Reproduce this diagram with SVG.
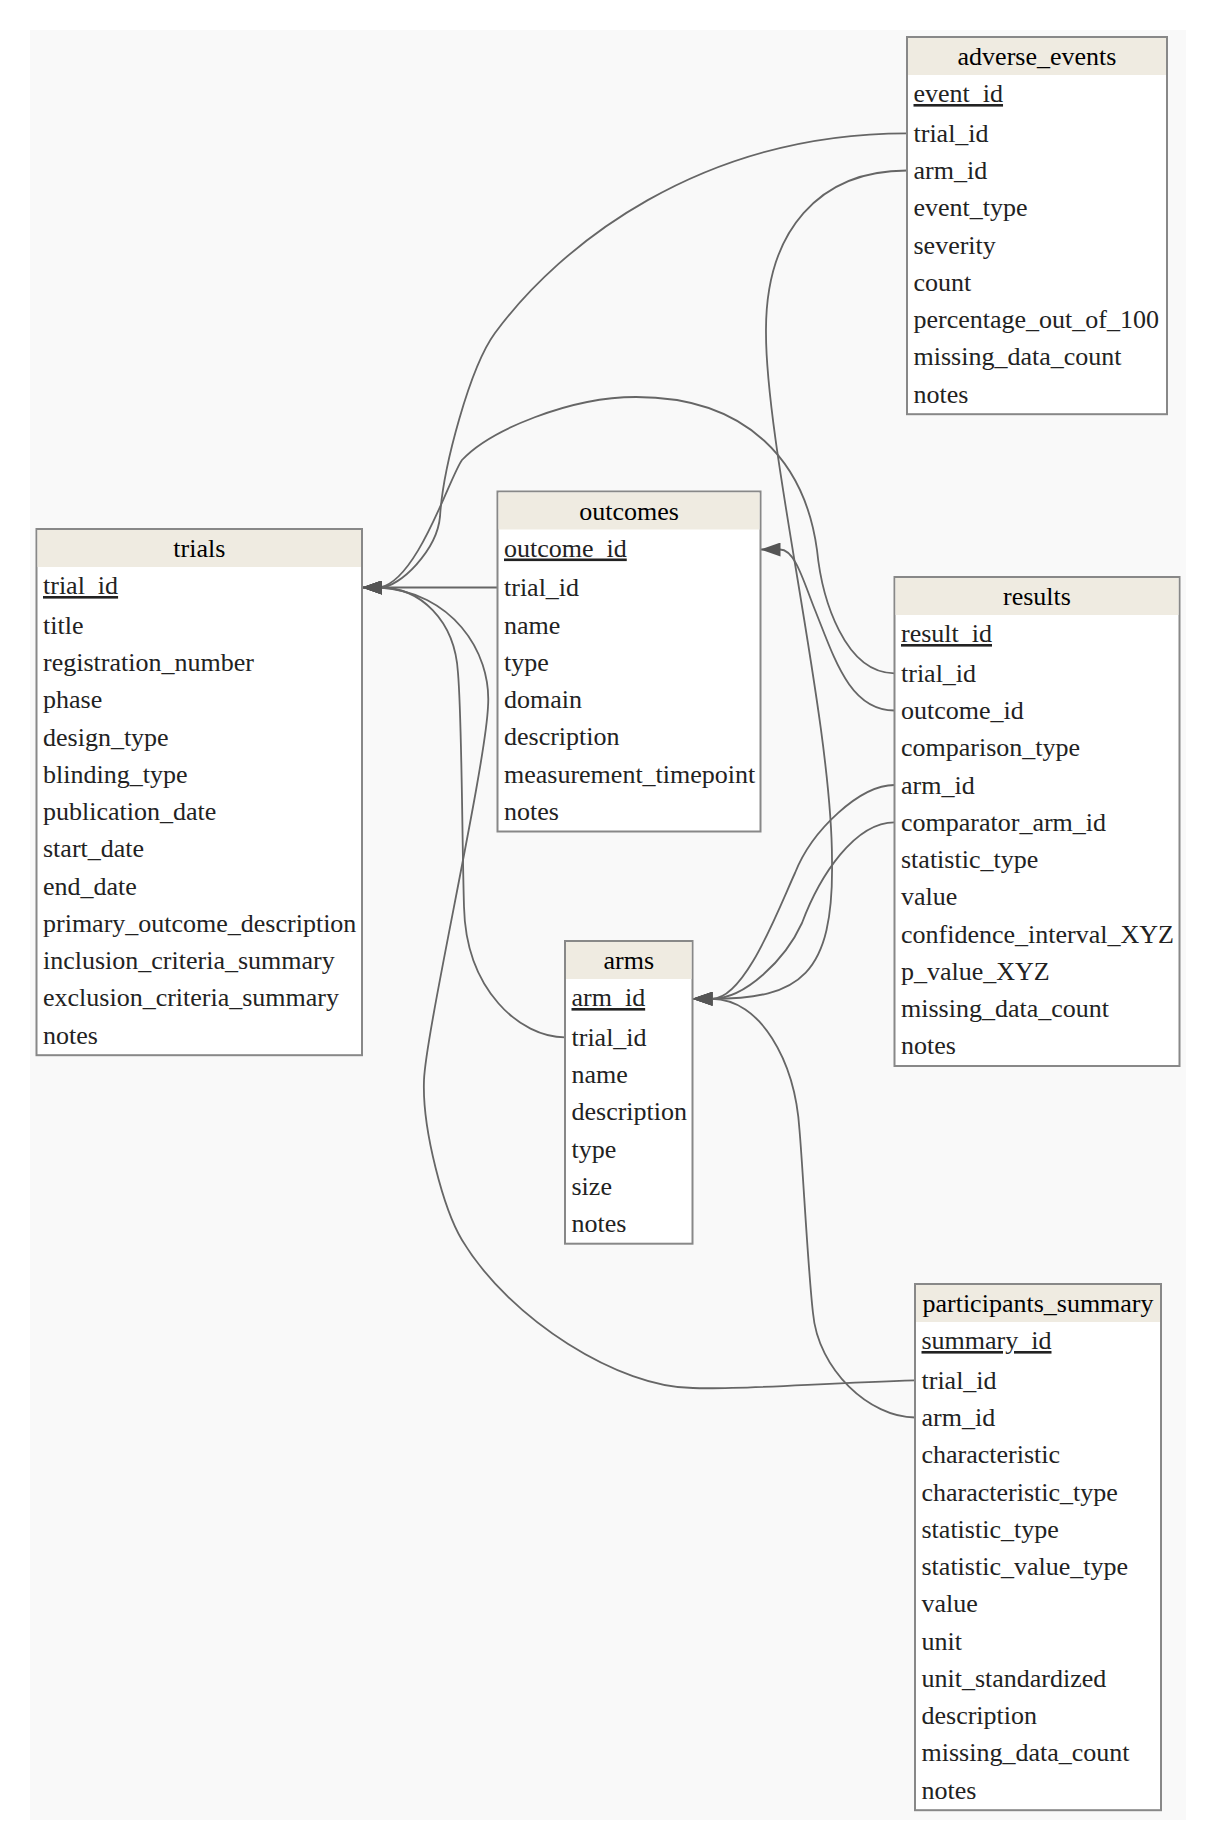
<svg xmlns="http://www.w3.org/2000/svg" width="1216" height="1848" viewBox="0 0 1216 1848">
<style>
.bg{fill:#f9f9f9}
.box{fill:#ffffff;stroke:#888888;stroke-width:2}
.hdr{fill:#efebe1}
text{font-family:"Liberation Serif","Times New Roman",serif;font-size:26px}
.ht{text-anchor:middle;fill:#000000}
.rt{fill:#222222}
.pk{text-decoration:underline}
.edge{fill:none;stroke:#666666;stroke-width:1.8;marker-end:url(#arr)}
</style>
<defs>
<marker id="arr" markerUnits="userSpaceOnUse" viewBox="0 0 20 14" refX="20" refY="7" markerWidth="20" markerHeight="14" orient="auto">
<path d="M0,0 L20,7 L0,14 Z" fill="#555555"/>
</marker>
</defs>
<rect x="0" y="0" width="1216" height="1848" fill="#ffffff"/>
<rect class="bg" x="30" y="30" width="1156" height="1790"/>

<g id="connectors">
<path id="e_ae_trial" class="edge" d="M907,133.3 C700,133.3 560,245 495,333 C470,367 443,467 440,516.7 C437,550 400,587.5 380,587.5 L362,587.5"/>
<path id="e_ae_arm" class="edge" d="M907,170.5 C820,170.5 765,230 766,333 C766,450 832,720 832,860 C834,975 800,998.8 712,998.8 L692.5,998.8"/>
<path id="e_res_trial" class="edge" d="M894.5,673.3 C845,673.3 822,600 817,550 C805,462 748,397 636,397 C570,397 490,430 462,460 C450,476 418,580 380,587.5 L362,587.5"/>
<path id="e_res_outcome" class="edge" d="M894.5,710.5 C850,710.5 835,660 815,610 C803,580 795,549.5 780,549.5 L760.5,549.5"/>
<path id="e_res_arm" class="edge" d="M894.5,785 C860,785 812,830 795,873 C778,910 745,998.8 712,998.8 L692.5,998.8"/>
<path id="e_res_comp" class="edge" d="M894.5,822.3 C855,822.3 820,875 802,923 C785,960 745,998.8 712,998.8 L692.5,998.8"/>
<path id="e_out_trial" class="edge" d="M497.5,587.5 L362,587.5"/>
<path id="e_arm_trial" class="edge" d="M565,1037.3 C520,1037.3 466,990 464,906.7 C462,840 462,720 458,673 C455,620 420,587.5 380,587.5 L362,587.5"/>
<path id="e_ps_trial" class="edge" d="M915,1380.3 C820,1383 740,1390 693,1388 C620,1388 510,1320 462,1240 C444,1210 422,1130 424,1080 C426,1030 485,770 488,706.7 C492,650 450,592 380,587.5 L362,587.5"/>
<path id="e_ps_arm" class="edge" d="M915,1417.5 C870,1417.5 818,1370 813,1313 C808,1270 803,1170 799.5,1130 C795,1060 760,998.8 712,998.8 L692.5,998.8"/>
</g>

<g id="adverse_events">
<rect class="box" x="907" y="37" width="260" height="377.2"/>
<rect class="hdr" x="908" y="38" width="258" height="37"/>
<text class="ht" x="1037" y="65">adverse_events</text>
<text class="rt pk" x="913.5" y="102">event_id</text>
<text class="rt" x="913.5" y="141.8">trial_id</text>
<text class="rt" x="913.5" y="179.1">arm_id</text>
<text class="rt" x="913.5" y="216.3">event_type</text>
<text class="rt" x="913.5" y="253.6">severity</text>
<text class="rt" x="913.5" y="290.8">count</text>
<text class="rt" x="913.5" y="328.1">percentage_out_of_100</text>
<text class="rt" x="913.5" y="365.3">missing_data_count</text>
<text class="rt" x="913.5" y="402.6">notes</text>
</g>

<g id="trials">
<rect class="box" x="36.5" y="529" width="325.5" height="526.2"/>
<rect class="hdr" x="37.5" y="530" width="323.5" height="37"/>
<text class="ht" x="199.3" y="557">trials</text>
<text class="rt pk" x="43" y="594">trial_id</text>
<text class="rt" x="43" y="633.8">title</text>
<text class="rt" x="43" y="671.1">registration_number</text>
<text class="rt" x="43" y="708.3">phase</text>
<text class="rt" x="43" y="745.6">design_type</text>
<text class="rt" x="43" y="782.8">blinding_type</text>
<text class="rt" x="43" y="820.1">publication_date</text>
<text class="rt" x="43" y="857.3">start_date</text>
<text class="rt" x="43" y="894.6">end_date</text>
<text class="rt" x="43" y="931.8">primary_outcome_description</text>
<text class="rt" x="43" y="969.1">inclusion_criteria_summary</text>
<text class="rt" x="43" y="1006.3">exclusion_criteria_summary</text>
<text class="rt" x="43" y="1043.6">notes</text>
</g>

<g id="outcomes">
<rect class="box" x="497.5" y="491.5" width="263" height="340"/>
<rect class="hdr" x="498.5" y="492.5" width="261" height="37"/>
<text class="ht" x="629" y="519.5">outcomes</text>
<text class="rt pk" x="504" y="556.5">outcome_id</text>
<text class="rt" x="504" y="596.3">trial_id</text>
<text class="rt" x="504" y="633.6">name</text>
<text class="rt" x="504" y="670.8">type</text>
<text class="rt" x="504" y="708.1">domain</text>
<text class="rt" x="504" y="745.3">description</text>
<text class="rt" x="504" y="782.6">measurement_timepoint</text>
<text class="rt" x="504" y="819.8">notes</text>
</g>

<g id="arms">
<rect class="box" x="565" y="941" width="127.5" height="302.7"/>
<rect class="hdr" x="566" y="942" width="125.5" height="37"/>
<text class="ht" x="628.8" y="969">arms</text>
<text class="rt pk" x="571.5" y="1006">arm_id</text>
<text class="rt" x="571.5" y="1045.8">trial_id</text>
<text class="rt" x="571.5" y="1083.1">name</text>
<text class="rt" x="571.5" y="1120.3">description</text>
<text class="rt" x="571.5" y="1157.6">type</text>
<text class="rt" x="571.5" y="1194.8">size</text>
<text class="rt" x="571.5" y="1232.1">notes</text>
</g>

<g id="results">
<rect class="box" x="894.5" y="577" width="285" height="489"/>
<rect class="hdr" x="895.5" y="578" width="283" height="37"/>
<text class="ht" x="1037" y="605">results</text>
<text class="rt pk" x="901" y="642">result_id</text>
<text class="rt" x="901" y="681.8">trial_id</text>
<text class="rt" x="901" y="719.1">outcome_id</text>
<text class="rt" x="901" y="756.3">comparison_type</text>
<text class="rt" x="901" y="793.6">arm_id</text>
<text class="rt" x="901" y="830.8">comparator_arm_id</text>
<text class="rt" x="901" y="868.1">statistic_type</text>
<text class="rt" x="901" y="905.3">value</text>
<text class="rt" x="901" y="942.6">confidence_interval_XYZ</text>
<text class="rt" x="901" y="979.8">p_value_XYZ</text>
<text class="rt" x="901" y="1017.1">missing_data_count</text>
<text class="rt" x="901" y="1054.3">notes</text>
</g>

<g id="participants_summary">
<rect class="box" x="915" y="1284" width="246" height="526.2"/>
<rect class="hdr" x="916" y="1285" width="244" height="37"/>
<text class="ht" x="1038" y="1312">participants_summary</text>
<text class="rt pk" x="921.5" y="1349">summary_id</text>
<text class="rt" x="921.5" y="1388.8">trial_id</text>
<text class="rt" x="921.5" y="1426.1">arm_id</text>
<text class="rt" x="921.5" y="1463.3">characteristic</text>
<text class="rt" x="921.5" y="1500.6">characteristic_type</text>
<text class="rt" x="921.5" y="1537.8">statistic_type</text>
<text class="rt" x="921.5" y="1575.1">statistic_value_type</text>
<text class="rt" x="921.5" y="1612.3">value</text>
<text class="rt" x="921.5" y="1649.6">unit</text>
<text class="rt" x="921.5" y="1686.8">unit_standardized</text>
<text class="rt" x="921.5" y="1724.1">description</text>
<text class="rt" x="921.5" y="1761.3">missing_data_count</text>
<text class="rt" x="921.5" y="1798.6">notes</text>
</g>
</svg>
